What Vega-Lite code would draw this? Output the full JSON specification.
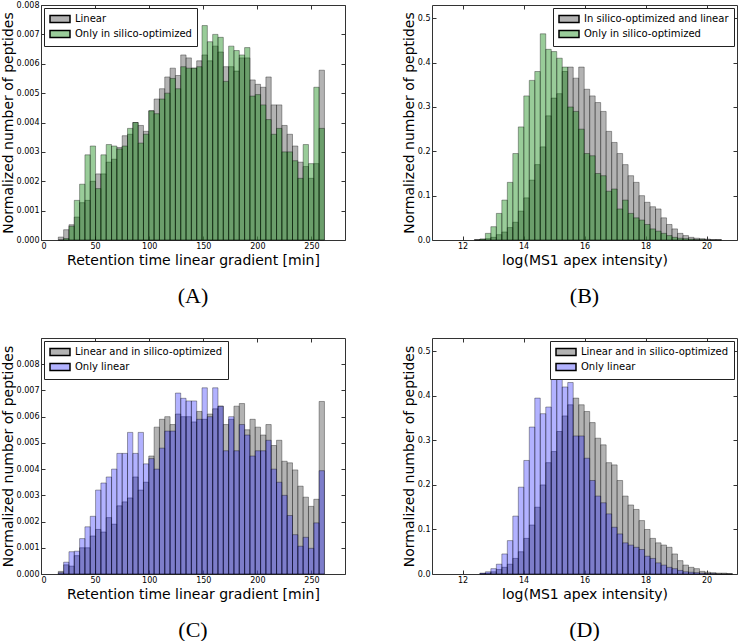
{
"$schema":"https://vega.github.io/schema/vega-lite/v6.json",
"background":"white",
"padding":{"left":0,"top":0,"right":0,"bottom":0},
"config":{
 "view":{"stroke":"#333","strokeWidth":1},
 "axis":{"grid":false,"domain":false,"tickSize":-4,"tickColor":"#333","labelFont":"DejaVu Sans","labelFontSize":8,"labelColor":"black","labelPadding":6,"titleFont":"DejaVu Sans","titleFontSize":14,"titleFontWeight":"normal","titleColor":"black","titlePadding":1},
 "axisX":{"titlePadding":3},
 "legend":{"labelFont":"DejaVu Sans","labelFontSize":10,"labelColor":"black","labelLimit":400,"strokeColor":"#222","fillColor":"white","padding":5,"offset":3,"rowPadding":1,"symbolType":"M-2,-0.7H2V0.7H-2Z","symbolSize":100,"symbolOffset":5,"labelOffset":9,"cornerRadius":0},
 "title":{"font":"Liberation Serif","fontSize":22,"fontWeight":"normal","orient":"bottom","offset":19,"color":"black"}
},
"datasets":{
"A":[
{"b0":16,"b1":20.92,"g":0.0001,"e":0},
{"b0":20.92,"b1":25.84,"g":0.00035,"e":0.00005},
{"b0":25.84,"b1":30.76,"g":0.00052,"e":0.00047},
{"b0":30.76,"b1":35.68,"g":0.00078,"e":0.00135},
{"b0":35.68,"b1":40.6,"g":0.00127,"e":0.0019},
{"b0":40.6,"b1":45.52,"g":0.00135,"e":0.0029},
{"b0":45.52,"b1":50.44,"g":0.002,"e":0.0032},
{"b0":50.44,"b1":55.36,"g":0.00225,"e":0.00175},
{"b0":55.36,"b1":60.28,"g":0.00225,"e":0.0029},
{"b0":60.28,"b1":65.2,"g":0.00265,"e":0.00325},
{"b0":65.2,"b1":70.12,"g":0.00275,"e":0.0032},
{"b0":70.12,"b1":75.04,"g":0.00315,"e":0.0031},
{"b0":75.04,"b1":79.96,"g":0.00355,"e":0.0032},
{"b0":79.96,"b1":84.88,"g":0.0036,"e":0.0038},
{"b0":84.88,"b1":89.8,"g":0.004,"e":0.004},
{"b0":89.8,"b1":94.72,"g":0.0039,"e":0.0033},
{"b0":94.72,"b1":99.64,"g":0.0037,"e":0.0036},
{"b0":99.64,"b1":104.56,"g":0.0044,"e":0.0044},
{"b0":104.56,"b1":109.48,"g":0.0048,"e":0.0043},
{"b0":109.48,"b1":114.4,"g":0.00515,"e":0.0048},
{"b0":114.4,"b1":119.32,"g":0.00555,"e":0.005},
{"b0":119.32,"b1":124.24,"g":0.00585,"e":0.0055},
{"b0":124.24,"b1":129.16,"g":0.0056,"e":0.00515},
{"b0":129.16,"b1":134.08,"g":0.0063,"e":0.0059},
{"b0":134.08,"b1":139,"g":0.0062,"e":0.00585},
{"b0":139,"b1":143.92,"g":0.00585,"e":0.00585},
{"b0":143.92,"b1":148.84,"g":0.0061,"e":0.0059},
{"b0":148.84,"b1":153.76,"g":0.0063,"e":0.0073},
{"b0":153.76,"b1":158.68,"g":0.0061,"e":0.00675},
{"b0":158.68,"b1":163.6,"g":0.0066,"e":0.007},
{"b0":163.6,"b1":168.52,"g":0.0064,"e":0.0069},
{"b0":168.52,"b1":173.44,"g":0.0059,"e":0.0054},
{"b0":173.44,"b1":178.36,"g":0.0059,"e":0.0066},
{"b0":178.36,"b1":183.28,"g":0.00575,"e":0.00645},
{"b0":183.28,"b1":188.2,"g":0.0062,"e":0.0063},
{"b0":188.2,"b1":193.12,"g":0.0062,"e":0.00655},
{"b0":193.12,"b1":198.04,"g":0.00545,"e":0.0049},
{"b0":198.04,"b1":202.96,"g":0.0053,"e":0.00495},
{"b0":202.96,"b1":207.88,"g":0.0052,"e":0.0046},
{"b0":207.88,"b1":212.8,"g":0.00555,"e":0.0041},
{"b0":212.8,"b1":217.72,"g":0.0046,"e":0.0036},
{"b0":217.72,"b1":222.64,"g":0.0046,"e":0.0038},
{"b0":222.64,"b1":227.56,"g":0.0039,"e":0.003},
{"b0":227.56,"b1":232.48,"g":0.0036,"e":0.003},
{"b0":232.48,"b1":237.4,"g":0.0032,"e":0.0027},
{"b0":237.4,"b1":242.32,"g":0.00265,"e":0.0021},
{"b0":242.32,"b1":247.24,"g":0.0025,"e":0.00325},
{"b0":247.24,"b1":252.16,"g":0.0021,"e":0.0026},
{"b0":252.16,"b1":257.08,"g":0.0026,"e":0.0052},
{"b0":257.08,"b1":262,"g":0.00578,"e":0.0038}
],
"C":[
{"b0":16,"b1":20.92,"g":0.0001,"e":0.00005},
{"b0":20.92,"b1":25.84,"g":0.00035,"e":0.00045},
{"b0":25.84,"b1":30.76,"g":0.0003,"e":0.00085},
{"b0":30.76,"b1":35.68,"g":0.0007,"e":0.00087},
{"b0":35.68,"b1":40.6,"g":0.001,"e":0.00135},
{"b0":40.6,"b1":45.52,"g":0.001,"e":0.0018},
{"b0":45.52,"b1":50.44,"g":0.00145,"e":0.0022},
{"b0":50.44,"b1":55.36,"g":0.0017,"e":0.0032},
{"b0":55.36,"b1":60.28,"g":0.0016,"e":0.00347},
{"b0":60.28,"b1":65.2,"g":0.00215,"e":0.0037},
{"b0":65.2,"b1":70.12,"g":0.0019,"e":0.004},
{"b0":70.12,"b1":75.04,"g":0.0026,"e":0.0046},
{"b0":75.04,"b1":79.96,"g":0.00275,"e":0.0046},
{"b0":79.96,"b1":84.88,"g":0.0029,"e":0.0054},
{"b0":84.88,"b1":89.8,"g":0.0037,"e":0.0046},
{"b0":89.8,"b1":94.72,"g":0.0032,"e":0.0054},
{"b0":94.72,"b1":99.64,"g":0.0035,"e":0.0042},
{"b0":99.64,"b1":104.56,"g":0.0045,"e":0.0044},
{"b0":104.56,"b1":109.48,"g":0.0056,"e":0.004},
{"b0":109.48,"b1":114.4,"g":0.0059,"e":0.0048},
{"b0":114.4,"b1":119.32,"g":0.006,"e":0.00545},
{"b0":119.32,"b1":124.24,"g":0.0057,"e":0.00545},
{"b0":124.24,"b1":129.16,"g":0.0061,"e":0.0069},
{"b0":129.16,"b1":134.08,"g":0.006,"e":0.0067},
{"b0":134.08,"b1":139,"g":0.006,"e":0.0066},
{"b0":139,"b1":143.92,"g":0.0058,"e":0.0066},
{"b0":143.92,"b1":148.84,"g":0.0062,"e":0.0059},
{"b0":148.84,"b1":153.76,"g":0.0059,"e":0.0071},
{"b0":153.76,"b1":158.68,"g":0.0061,"e":0.006},
{"b0":158.68,"b1":163.6,"g":0.0063,"e":0.0071},
{"b0":163.6,"b1":168.52,"g":0.0064,"e":0.0064},
{"b0":168.52,"b1":173.44,"g":0.0057,"e":0.0047},
{"b0":173.44,"b1":178.36,"g":0.0059,"e":0.006},
{"b0":178.36,"b1":183.28,"g":0.0064,"e":0.0047},
{"b0":183.28,"b1":188.2,"g":0.0065,"e":0.0057},
{"b0":188.2,"b1":193.12,"g":0.0055,"e":0.0053},
{"b0":193.12,"b1":198.04,"g":0.0059,"e":0.0045},
{"b0":198.04,"b1":202.96,"g":0.0056,"e":0.0047},
{"b0":202.96,"b1":207.88,"g":0.0053,"e":0.0047},
{"b0":207.88,"b1":212.8,"g":0.0057,"e":0.0051},
{"b0":212.8,"b1":217.72,"g":0.0049,"e":0.004},
{"b0":217.72,"b1":222.64,"g":0.0051,"e":0.0035},
{"b0":222.64,"b1":227.56,"g":0.0043,"e":0.003},
{"b0":227.56,"b1":232.48,"g":0.00424,"e":0.00223},
{"b0":232.48,"b1":237.4,"g":0.00397,"e":0.0015},
{"b0":237.4,"b1":242.32,"g":0.00335,"e":0.00106},
{"b0":242.32,"b1":247.24,"g":0.00293,"e":0.0014},
{"b0":247.24,"b1":252.16,"g":0.00258,"e":0.00098},
{"b0":252.16,"b1":257.08,"g":0.00285,"e":0.00195},
{"b0":257.08,"b1":262,"g":0.00658,"e":0.00394}
],
"B":[
{"b0":12.39,"b1":12.57,"g":0.001,"e":0},
{"b0":12.57,"b1":12.75,"g":0.002,"e":0.002},
{"b0":12.75,"b1":12.93,"g":0.003,"e":0.015},
{"b0":12.93,"b1":13.11,"g":0.006,"e":0.03},
{"b0":13.11,"b1":13.29,"g":0.012,"e":0.06},
{"b0":13.29,"b1":13.47,"g":0.018,"e":0.09},
{"b0":13.47,"b1":13.65,"g":0.028,"e":0.13},
{"b0":13.65,"b1":13.83,"g":0.04,"e":0.195},
{"b0":13.83,"b1":14.01,"g":0.065,"e":0.255},
{"b0":14.01,"b1":14.19,"g":0.095,"e":0.325},
{"b0":14.19,"b1":14.37,"g":0.135,"e":0.36},
{"b0":14.37,"b1":14.55,"g":0.17,"e":0.38},
{"b0":14.55,"b1":14.73,"g":0.21,"e":0.465},
{"b0":14.73,"b1":14.91,"g":0.28,"e":0.43},
{"b0":14.91,"b1":15.09,"g":0.32,"e":0.425},
{"b0":15.09,"b1":15.27,"g":0.33,"e":0.41},
{"b0":15.27,"b1":15.45,"g":0.38,"e":0.39},
{"b0":15.45,"b1":15.63,"g":0.39,"e":0.3},
{"b0":15.63,"b1":15.81,"g":0.365,"e":0.29},
{"b0":15.81,"b1":15.99,"g":0.39,"e":0.25},
{"b0":15.99,"b1":16.17,"g":0.34,"e":0.195},
{"b0":16.17,"b1":16.35,"g":0.325,"e":0.19},
{"b0":16.35,"b1":16.53,"g":0.31,"e":0.15},
{"b0":16.53,"b1":16.71,"g":0.29,"e":0.145},
{"b0":16.71,"b1":16.89,"g":0.245,"e":0.11},
{"b0":16.89,"b1":17.07,"g":0.22,"e":0.115},
{"b0":17.07,"b1":17.25,"g":0.195,"e":0.07},
{"b0":17.25,"b1":17.43,"g":0.17,"e":0.09},
{"b0":17.43,"b1":17.61,"g":0.145,"e":0.06},
{"b0":17.61,"b1":17.79,"g":0.13,"e":0.05},
{"b0":17.79,"b1":17.97,"g":0.1,"e":0.045},
{"b0":17.97,"b1":18.15,"g":0.085,"e":0.035},
{"b0":18.15,"b1":18.33,"g":0.075,"e":0.025},
{"b0":18.33,"b1":18.51,"g":0.07,"e":0.02},
{"b0":18.51,"b1":18.69,"g":0.05,"e":0.015},
{"b0":18.69,"b1":18.87,"g":0.035,"e":0.01},
{"b0":18.87,"b1":19.05,"g":0.025,"e":0.006},
{"b0":19.05,"b1":19.23,"g":0.015,"e":0.004},
{"b0":19.23,"b1":19.41,"g":0.01,"e":0.003},
{"b0":19.41,"b1":19.59,"g":0.006,"e":0.002},
{"b0":19.59,"b1":19.77,"g":0.004,"e":0.001},
{"b0":19.77,"b1":19.95,"g":0.003,"e":0.001},
{"b0":19.95,"b1":20.13,"g":0.002,"e":0},
{"b0":20.13,"b1":20.31,"g":0.001,"e":0},
{"b0":20.31,"b1":20.49,"g":0.001,"e":0}
],
"D":[
{"b0":12.57,"b1":12.75,"g":0.001,"e":0.002},
{"b0":12.75,"b1":12.93,"g":0.002,"e":0.005},
{"b0":12.93,"b1":13.11,"g":0.005,"e":0.012},
{"b0":13.11,"b1":13.29,"g":0.01,"e":0.022},
{"b0":13.29,"b1":13.47,"g":0.015,"e":0.045},
{"b0":13.47,"b1":13.65,"g":0.022,"e":0.075},
{"b0":13.65,"b1":13.83,"g":0.035,"e":0.13},
{"b0":13.83,"b1":14.01,"g":0.05,"e":0.195},
{"b0":14.01,"b1":14.19,"g":0.08,"e":0.255},
{"b0":14.19,"b1":14.37,"g":0.11,"e":0.33},
{"b0":14.37,"b1":14.55,"g":0.15,"e":0.395},
{"b0":14.55,"b1":14.73,"g":0.2,"e":0.36},
{"b0":14.73,"b1":14.91,"g":0.25,"e":0.375},
{"b0":14.91,"b1":15.09,"g":0.275,"e":0.44},
{"b0":15.09,"b1":15.27,"g":0.32,"e":0.45},
{"b0":15.27,"b1":15.45,"g":0.355,"e":0.42},
{"b0":15.45,"b1":15.63,"g":0.38,"e":0.43},
{"b0":15.63,"b1":15.81,"g":0.395,"e":0.31},
{"b0":15.81,"b1":15.99,"g":0.38,"e":0.31},
{"b0":15.99,"b1":16.17,"g":0.365,"e":0.26},
{"b0":16.17,"b1":16.35,"g":0.34,"e":0.21},
{"b0":16.35,"b1":16.53,"g":0.305,"e":0.175},
{"b0":16.53,"b1":16.71,"g":0.29,"e":0.16},
{"b0":16.71,"b1":16.89,"g":0.25,"e":0.135},
{"b0":16.89,"b1":17.07,"g":0.245,"e":0.105},
{"b0":17.07,"b1":17.25,"g":0.21,"e":0.09},
{"b0":17.25,"b1":17.43,"g":0.175,"e":0.07},
{"b0":17.43,"b1":17.61,"g":0.155,"e":0.065},
{"b0":17.61,"b1":17.79,"g":0.145,"e":0.06},
{"b0":17.79,"b1":17.97,"g":0.12,"e":0.055},
{"b0":17.97,"b1":18.15,"g":0.1,"e":0.04},
{"b0":18.15,"b1":18.33,"g":0.08,"e":0.035},
{"b0":18.33,"b1":18.51,"g":0.07,"e":0.025},
{"b0":18.51,"b1":18.69,"g":0.065,"e":0.02},
{"b0":18.69,"b1":18.87,"g":0.06,"e":0.015},
{"b0":18.87,"b1":19.05,"g":0.045,"e":0.012},
{"b0":19.05,"b1":19.23,"g":0.03,"e":0.008},
{"b0":19.23,"b1":19.41,"g":0.02,"e":0.005},
{"b0":19.41,"b1":19.59,"g":0.015,"e":0.004},
{"b0":19.59,"b1":19.77,"g":0.012,"e":0.003},
{"b0":19.77,"b1":19.95,"g":0.006,"e":0.002},
{"b0":19.95,"b1":20.13,"g":0.004,"e":0.001},
{"b0":20.13,"b1":20.31,"g":0.003,"e":0.001},
{"b0":20.31,"b1":20.49,"g":0.002,"e":0},
{"b0":20.49,"b1":20.67,"g":0.002,"e":0},
{"b0":20.67,"b1":20.85,"g":0.001,"e":0}
]
},
"spacing":29,
"resolve":{"scale":{"color":"independent"}},
"vconcat":[
{"hconcat":[
 {"width":304,"height":235,"title":{"text":"(A)"},"data":{"name":"A"},
  "layer":[
   {"mark":{"type":"bar","stroke":"black","strokeWidth":0.5,"strokeOpacity":0.7},
    "encoding":{
     "x":{"field":"b0","type":"quantitative","scale":{"domain":[0,281],"nice":false,"zero":false},"axis":{"values":[0,50,100,150,200,250],"title":"Retention time linear gradient [min]"}},
     "x2":{"field":"b1"},
     "y":{"field":"g","type":"quantitative","scale":{"domain":[0,0.008],"nice":false},"axis":{"values":[0,0.001,0.002,0.003,0.004,0.005,0.006,0.007,0.008],"format":".3f","title":"Normalized number of peptides"}},
     "y2":{"datum":0},
     "color":{"datum":"Linear","type":"nominal","scale":{"domain":["Linear","Only in silico-optimized"],"range":["rgba(128,128,128,0.6)","rgba(0,128,0,0.4)"]},"legend":{"orient":"top-left","title":null}}}},
   {"mark":{"type":"bar","stroke":"black","strokeWidth":0.5,"strokeOpacity":0.7},
    "encoding":{
     "x":{"field":"b0","type":"quantitative","axis":{"orient":"top","labels":false,"title":null,"values":[0,50,100,150,200,250]}},
     "x2":{"field":"b1"},
     "y":{"field":"e","type":"quantitative","axis":{"orient":"right","labels":false,"title":null,"values":[0,0.001,0.002,0.003,0.004,0.005,0.006,0.007,0.008]}},
     "y2":{"datum":0},
     "color":{"datum":"Only in silico-optimized","type":"nominal"}}}
  ],
  "resolve":{"axis":{"x":"independent","y":"independent"}}},
 {"width":305,"height":235,"title":{"text":"(B)"},"data":{"name":"B"},
  "layer":[
   {"mark":{"type":"bar","stroke":"black","strokeWidth":0.5,"strokeOpacity":0.7},
    "encoding":{
     "x":{"field":"b0","type":"quantitative","scale":{"domain":[11,21],"nice":false,"zero":false},"axis":{"values":[12,14,16,18,20],"title":"log(MS1 apex intensity)"}},
     "x2":{"field":"b1"},
     "y":{"field":"g","type":"quantitative","scale":{"domain":[0,0.53],"nice":false},"axis":{"values":[0,0.1,0.2,0.3,0.4,0.5],"format":".1f","title":"Normalized number of peptides"}},
     "y2":{"datum":0},
     "color":{"datum":"In silico-optimized and linear","type":"nominal","scale":{"domain":["In silico-optimized and linear","Only in silico-optimized"],"range":["rgba(128,128,128,0.6)","rgba(0,128,0,0.4)"]},"legend":{"orient":"top-right","title":null}}}},
   {"mark":{"type":"bar","stroke":"black","strokeWidth":0.5,"strokeOpacity":0.7},
    "encoding":{
     "x":{"field":"b0","type":"quantitative","axis":{"orient":"top","labels":false,"title":null,"values":[12,14,16,18,20]}},
     "x2":{"field":"b1"},
     "y":{"field":"e","type":"quantitative","axis":{"orient":"right","labels":false,"title":null,"values":[0,0.1,0.2,0.3,0.4,0.5]}},
     "y2":{"datum":0},
     "color":{"datum":"Only in silico-optimized","type":"nominal"}}}
  ],
  "resolve":{"axis":{"x":"independent","y":"independent"}}}
 ],"spacing":55,"resolve":{"scale":{"color":"independent"}}},
{"hconcat":[
 {"width":304,"height":236,"title":{"text":"(C)"},"data":{"name":"C"},
  "layer":[
   {"mark":{"type":"bar","stroke":"black","strokeWidth":0.5,"strokeOpacity":0.7},
    "encoding":{
     "x":{"field":"b0","type":"quantitative","scale":{"domain":[0,281],"nice":false,"zero":false},"axis":{"values":[0,50,100,150,200,250],"title":"Retention time linear gradient [min]"}},
     "x2":{"field":"b1"},
     "y":{"field":"g","type":"quantitative","scale":{"domain":[0,0.009],"nice":false},"axis":{"values":[0,0.001,0.002,0.003,0.004,0.005,0.006,0.007,0.008],"format":".3f","title":"Normalized number of peptides"}},
     "y2":{"datum":0},
     "color":{"datum":"Linear and in silico-optimized","type":"nominal","scale":{"domain":["Linear and in silico-optimized","Only linear"],"range":["rgba(128,128,128,0.6)","rgba(0,0,255,0.3)"]},"legend":{"orient":"top-left","title":null}}}},
   {"mark":{"type":"bar","stroke":"black","strokeWidth":0.5,"strokeOpacity":0.7},
    "encoding":{
     "x":{"field":"b0","type":"quantitative","axis":{"orient":"top","labels":false,"title":null,"values":[0,50,100,150,200,250]}},
     "x2":{"field":"b1"},
     "y":{"field":"e","type":"quantitative","axis":{"orient":"right","labels":false,"title":null,"values":[0,0.001,0.002,0.003,0.004,0.005,0.006,0.007,0.008]}},
     "y2":{"datum":0},
     "color":{"datum":"Only linear","type":"nominal"}}}
  ],
  "resolve":{"axis":{"x":"independent","y":"independent"}}},
 {"width":305,"height":236,"title":{"text":"(D)"},"data":{"name":"D"},
  "layer":[
   {"mark":{"type":"bar","stroke":"black","strokeWidth":0.5,"strokeOpacity":0.7},
    "encoding":{
     "x":{"field":"b0","type":"quantitative","scale":{"domain":[11,21],"nice":false,"zero":false},"axis":{"values":[12,14,16,18,20],"title":"log(MS1 apex intensity)"}},
     "x2":{"field":"b1"},
     "y":{"field":"g","type":"quantitative","scale":{"domain":[0,0.53],"nice":false},"axis":{"values":[0,0.1,0.2,0.3,0.4,0.5],"format":".1f","title":"Normalized number of peptides"}},
     "y2":{"datum":0},
     "color":{"datum":"Linear and in silico-optimized","type":"nominal","scale":{"domain":["Linear and in silico-optimized","Only linear"],"range":["rgba(128,128,128,0.6)","rgba(0,0,255,0.3)"]},"legend":{"orient":"top-right","title":null}}}},
   {"mark":{"type":"bar","stroke":"black","strokeWidth":0.5,"strokeOpacity":0.7},
    "encoding":{
     "x":{"field":"b0","type":"quantitative","axis":{"orient":"top","labels":false,"title":null,"values":[12,14,16,18,20]}},
     "x2":{"field":"b1"},
     "y":{"field":"e","type":"quantitative","axis":{"orient":"right","labels":false,"title":null,"values":[0,0.1,0.2,0.3,0.4,0.5]}},
     "y2":{"datum":0},
     "color":{"datum":"Only linear","type":"nominal"}}}
  ],
  "resolve":{"axis":{"x":"independent","y":"independent"}}}
 ],"spacing":55,"resolve":{"scale":{"color":"independent"}}}
]
}
